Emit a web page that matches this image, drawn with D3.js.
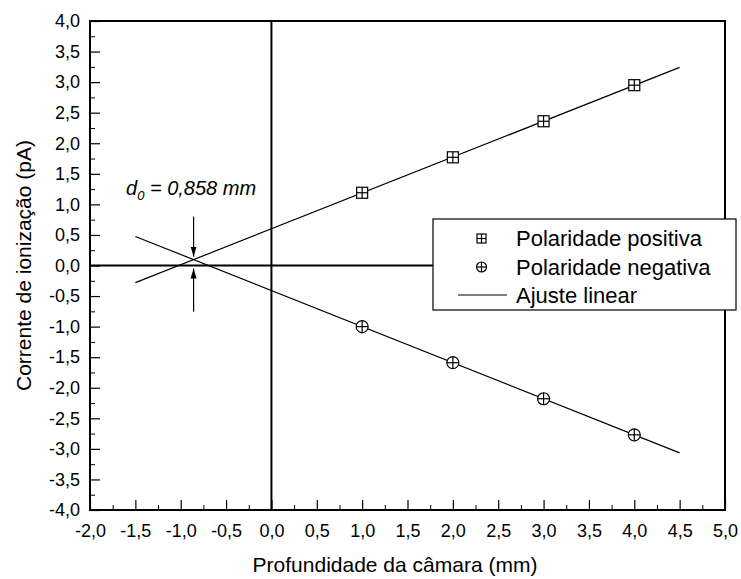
<!DOCTYPE html>
<html>
<head>
<meta charset="utf-8">
<script src="https://cdn.jsdelivr.net/npm/d3@7"></script>
<style>
  body { margin: 0; background: #fff; }
  text { font-family: "Liberation Sans", Arial, sans-serif; fill: #000; }
</style>
</head>
<body>
<div id="chart"></div>
<script>
// data
var depth    = [1, 2, 3, 4];                 // mm
var positive = [1.19, 1.77, 2.36, 2.95];     // pA
var negative = [-1.00, -1.59, -2.18, -2.77]; // pA
var fitRange = [-1.5, 4.5];
var xTicks = d3.range(-2, 5.01, 0.5);
var yTicks = d3.range(-4, 4.01, 0.5);
var labels = ["Polaridade positiva", "Polaridade negativa", "Ajuste linear"];

var width = 741, height = 579;
var margin = {top: 21, right: 16, bottom: 69, left: 90};

var svg = d3.select("#chart").append("svg")
    .attr("width", width)
    .attr("height", height);

var x = d3.scaleLinear().domain([-2, 5]).range([margin.left, width - margin.right]);
var y = d3.scaleLinear().domain([-4, 4]).range([height - margin.bottom, margin.top]);

var fmt = function (d) { return d3.format(".1f")(d).replace(".", ",").replace("−", "-"); };

// least squares fit
function fit(xs, ys) {
    var mx = d3.mean(xs), my = d3.mean(ys);
    var sxy = d3.sum(xs, function (v, i) { return (v - mx) * (ys[i] - my); });
    var sxx = d3.sum(xs, function (v) { return (v - mx) * (v - mx); });
    var b = sxy / sxx;
    return {slope: b, icpt: my - b * mx};
}
var fitPos = fit(depth, positive);
var fitNeg = fit(depth, negative);

// minor ticks
var minorX = d3.range(-1.75, 5, 0.5);
var minorY = d3.range(-3.75, 4, 0.5);

svg.append("g")
    .attr("transform", "translate(0," + y(-4) + ")")
    .call(d3.axisBottom(x).tickValues(minorX).tickSize(-5).tickFormat(""))
    .call(function (g) { g.select(".domain").remove(); });
svg.append("g")
    .attr("transform", "translate(" + x(-2) + ",0)")
    .call(d3.axisLeft(y).tickValues(minorY).tickSize(-5).tickFormat(""))
    .call(function (g) { g.select(".domain").remove(); });

var xAxis = svg.append("g")
    .attr("transform", "translate(0," + y(-4) + ")")
    .call(d3.axisBottom(x).tickValues(xTicks).tickSize(-10).tickPadding(14).tickFormat(fmt));
var yAxis = svg.append("g")
    .attr("transform", "translate(" + x(-2) + ",0)")
    .call(d3.axisLeft(y).tickValues(yTicks).tickSize(-10).tickPadding(10).tickFormat(fmt));

[xAxis, yAxis].forEach(function (a) {
    a.select(".domain").remove();
    a.selectAll("text").attr("font-size", 18).attr("font-family", "Liberation Sans, Arial, sans-serif");
    a.selectAll("line").attr("stroke-width", 1.2);
});
svg.selectAll(".tick line").attr("stroke", "#000");

// zero lines
svg.append("line")
    .attr("x1", x(0)).attr("x2", x(0))
    .attr("y1", y(4)).attr("y2", y(-4))
    .attr("stroke", "#000").attr("stroke-width", 2);
svg.append("line")
    .attr("x1", x(-2)).attr("x2", x(5))
    .attr("y1", y(0)).attr("y2", y(0))
    .attr("stroke", "#000").attr("stroke-width", 2);

// frame
svg.append("rect")
    .attr("x", x(-2)).attr("y", y(4))
    .attr("width", x(5) - x(-2)).attr("height", y(-4) - y(4))
    .attr("fill", "none").attr("stroke", "#000").attr("stroke-width", 2);

// fit lines
[fitPos, fitNeg].forEach(function (f) {
    svg.append("line")
        .attr("x1", x(fitRange[0])).attr("y1", y(f.slope * fitRange[0] + f.icpt))
        .attr("x2", x(fitRange[1])).attr("y2", y(f.slope * fitRange[1] + f.icpt))
        .attr("stroke", "#000").attr("stroke-width", 1.2);
});

function squareMark(g, cx, cy, s) {
    g.append("rect").attr("x", cx - s / 2).attr("y", cy - s / 2).attr("width", s).attr("height", s)
        .attr("fill", "#fff").attr("stroke", "#000").attr("stroke-width", 1.2);
    g.append("line").attr("x1", cx - s / 2).attr("x2", cx + s / 2).attr("y1", cy).attr("y2", cy)
        .attr("stroke", "#000").attr("stroke-width", 1.2);
    g.append("line").attr("x1", cx).attr("x2", cx).attr("y1", cy - s / 2).attr("y2", cy + s / 2)
        .attr("stroke", "#000").attr("stroke-width", 1.2);
}
function circleMark(g, cx, cy, s) {
    g.append("circle").attr("cx", cx).attr("cy", cy).attr("r", s / 2)
        .attr("fill", "#fff").attr("stroke", "#000").attr("stroke-width", 1.2);
    g.append("line").attr("x1", cx - s / 2).attr("x2", cx + s / 2).attr("y1", cy).attr("y2", cy)
        .attr("stroke", "#000").attr("stroke-width", 1.2);
    g.append("line").attr("x1", cx).attr("x2", cx).attr("y1", cy - s / 2).attr("y2", cy + s / 2)
        .attr("stroke", "#000").attr("stroke-width", 1.2);
}

var marks = svg.append("g");
depth.forEach(function (d, i) {
    squareMark(marks, x(d), y(positive[i]), 11);
    circleMark(marks, x(d), y(negative[i]), 12);
});

// d0 annotation
var d0 = (fitNeg.icpt - fitPos.icpt) / (fitPos.slope - fitNeg.slope);
var cx0 = x(d0), cy0 = y(fitPos.slope * d0 + fitPos.icpt);
svg.append("defs").append("marker")
    .attr("id", "arr").attr("viewBox", "0 0 10 10")
    .attr("refX", 10).attr("refY", 5)
    .attr("markerWidth", 10).attr("markerHeight", 10)
    .attr("markerUnits", "userSpaceOnUse")
    .attr("orient", "auto")
    .append("path").attr("d", "M0,2 L10,5 L0,8 Z").attr("fill", "#000");
svg.append("line")
    .attr("x1", cx0).attr("x2", cx0).attr("y1", cy0 - 43).attr("y2", cy0 - 3)
    .attr("stroke", "#000").attr("stroke-width", 1.2).attr("marker-end", "url(#arr)");
svg.append("line")
    .attr("x1", cx0).attr("x2", cx0).attr("y1", cy0 + 52).attr("y2", cy0 + 9)
    .attr("stroke", "#000").attr("stroke-width", 1.2).attr("marker-end", "url(#arr)");

var ann = svg.append("text")
    .attr("x", 126).attr("y", 195)
    .attr("font-size", 20).attr("font-style", "italic");
ann.append("tspan").text("d");
ann.append("tspan").attr("font-size", 13).attr("dy", 5).text("0");
ann.append("tspan").attr("dy", -5).text(" = " + d3.format(".3f")(-d0).replace(".", ",") + " mm");

// legend
var lg = svg.append("g").attr("transform", "translate(433,219)");
lg.append("rect").attr("width", 303).attr("height", 91)
    .attr("fill", "#fff").attr("stroke", "#000").attr("stroke-width", 1.2);
squareMark(lg, 48.5, 19.5, 9);
circleMark(lg, 48.5, 48, 10);
lg.append("line").attr("x1", 25).attr("x2", 74).attr("y1", 76).attr("y2", 76)
    .attr("stroke", "#000").attr("stroke-width", 1.2);
lg.selectAll("text.lbl").data(labels).enter().append("text")
    .attr("class", "lbl")
    .attr("x", 83)
    .attr("y", function (d, i) { return 19.5 + i * 28.3; })
    .attr("dy", "0.35em")
    .attr("font-size", 22)
    .text(function (d) { return d; });

// axis titles
svg.append("text")
    .attr("x", 395).attr("y", 572)
    .attr("text-anchor", "middle").attr("font-size", 21)
    .text("Profundidade da câmara (mm)");
svg.append("text")
    .attr("transform", "translate(31," + y(0) + ") rotate(-90)")
    .attr("text-anchor", "middle").attr("font-size", 21)
    .text("Corrente de ionização (pA)");
</script>
</body>
</html>
